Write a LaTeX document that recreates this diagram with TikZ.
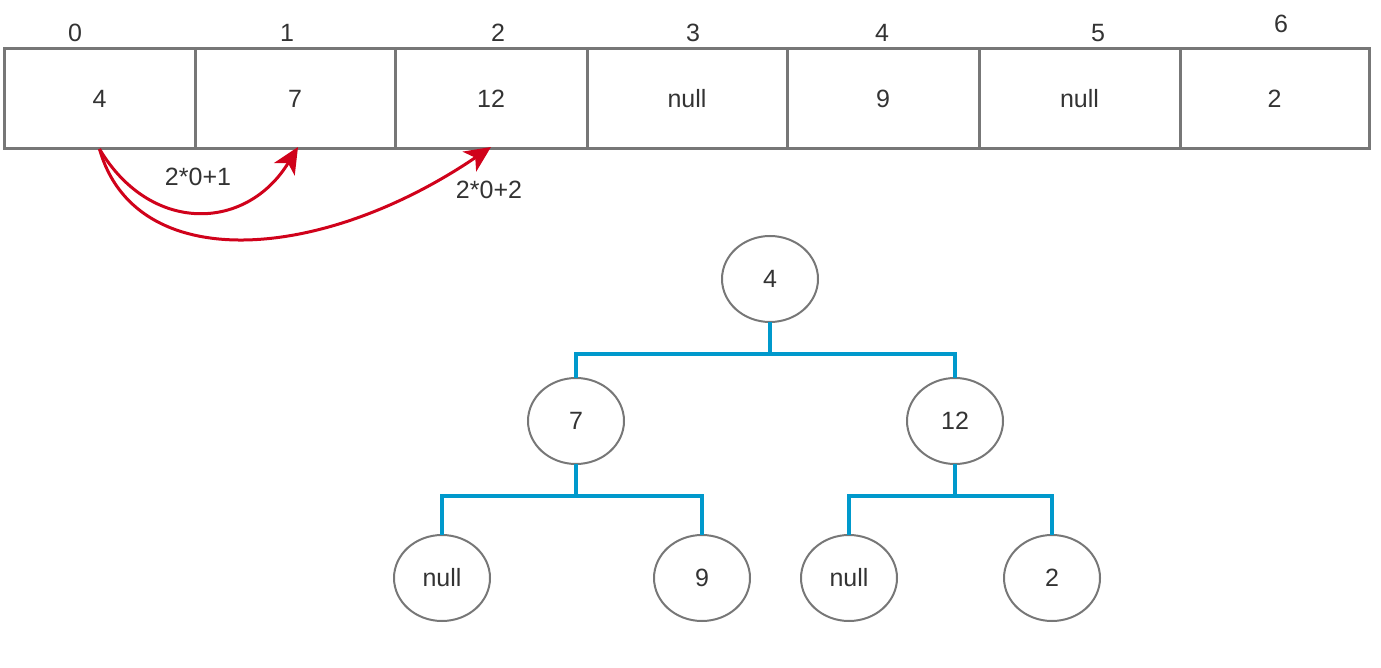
\documentclass[tikz,border=0pt]{standalone}
\usepackage{fontspec}
\setmainfont{Liberation Sans}
\usetikzlibrary{shapes.geometric,arrows.meta}
\definecolor{boxgray}{HTML}{777777}
\definecolor{txt}{HTML}{333333}
\definecolor{treeblue}{HTML}{0099CC}
\definecolor{arrred}{HTML}{D0021B}
\tikzset{
  cell/.style={draw=boxgray,line width=3pt,rectangle,minimum height=100pt,inner sep=0pt,outer sep=0pt,text=txt},
  idx/.style={text=txt,inner sep=0pt},
  tnode/.style={draw=boxgray,line width=2pt,ellipse,minimum width=96pt,minimum height=86pt,inner sep=0pt,outer sep=0pt,text=txt},
  edge/.style={draw=treeblue,line width=4pt},
  redarr/.style={draw=arrred,line width=3pt,-{Stealth[length=26pt,width=24pt,inset=7pt]},fill=none},
  lbl/.style={text=txt,inner sep=0pt}
}
\begin{document}
\begin{tikzpicture}[x=1pt,y=-1pt,font=\fontsize{25}{29}\selectfont]
\useasboundingbox (0,0) rectangle (1381,668);
% array cells
\node[cell,minimum width=191pt] (c0) at (99.5,99) {4};
\node[cell,minimum width=200pt] (c1) at (295,99) {7};
\node[cell,minimum width=192pt] (c2) at (491,99) {12};
\node[cell,minimum width=200pt] (c3) at (687,99) {null};
\node[cell,minimum width=192pt] (c4) at (883,99) {9};
\node[cell,minimum width=201pt] (c5) at (1079.5,99) {null};
\node[cell,minimum width=189pt] (c6) at (1274.5,99) {2};
% indices
\node[idx] (i0) at (75,33) {0};
\node[idx] (i1) at (287,33) {1};
\node[idx] (i2) at (498,33) {2};
\node[idx] (i3) at (693,33) {3};
\node[idx] (i4) at (882,33) {4};
\node[idx] (i5) at (1098,33) {5};
\node[idx] (i6) at (1281,24) {6};
% red arrows
\draw[redarr] (c0.south) .. controls +(50.5,85) and +(-52,85) .. ([xshift=3pt,yshift=2pt]c1.south);
\draw[redarr] (c0.south) .. controls +(35.5,126) and +(-171,116) .. ([yshift=2pt]c2.south);
\node[lbl] (l1) at (198,177) {2*0+1};
\node[lbl] (l2) at (489,190) {2*0+2};
% tree
\node[tnode] (t4) at (770,279) {4};
\node[tnode] (t7) at (576,421) {7};
\node[tnode] (t12) at (955,421) {12};
\node[tnode] (tn1) at (442,578) {null};
\node[tnode] (t9) at (702,578) {9};
\node[tnode] (tn2) at (849,578) {null};
\node[tnode] (t2) at (1052,578) {2};
\draw[edge] (t4.south) -- ++(0,32) coordinate (j1) -| (t7.north);
\draw[edge] (j1) -| (t12.north);
\draw[edge] (t7.south) -- ++(0,32) coordinate (j2) -| (tn1.north);
\draw[edge] (j2) -| (t9.north);
\draw[edge] (t12.south) -- ++(0,32) coordinate (j3) -| (tn2.north);
\draw[edge] (j3) -| (t2.north);
\end{tikzpicture}
\end{document}
